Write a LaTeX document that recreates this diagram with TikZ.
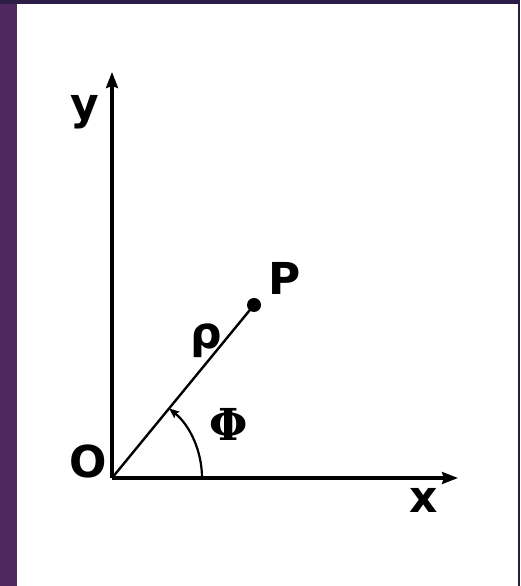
\documentclass[tikz,border=0pt]{standalone}
\usepackage{fontspec}
\setmainfont{DejaVu Sans}
\newfontfamily\phifont{DejaVu Serif}
\usepackage{tikz}
\usetikzlibrary{arrows.meta}
\usepackage{xcolor}
\definecolor{bandleft}{HTML}{4E2960}
\definecolor{bandtop}{HTML}{2B1D46}

\begin{document}
\begin{tikzpicture}[x=1pt,y=1pt,font=\fontsize{44}{50}\selectfont\bfseries,
  axis/.style={line width=3.2pt,-{Stealth[length=16pt,width=12pt,inset=2pt]}},
  ray/.style={line width=2.4pt},
  anglearc/.style={line width=2.2pt,-{Stealth[length=10pt,width=8pt,inset=1.5pt]}},
  lbl/.style={inner sep=0pt}]
% frame
\fill[white] (0,0) rectangle (520,586);
\fill[bandleft] (0,0) rectangle (17,586);
\fill[bandtop] (0,582) rectangle (520,586);
\fill[bandtop] (518,0) rectangle (520,586);
\useasboundingbox (0,0) rectangle (520,586);
% axes and point
\coordinate (O) at (112,108);
\coordinate (xtip) at (458,108);
\coordinate (ytip) at (112,514);
\coordinate (P) at (254,281);
\draw[axis] (O) -- (xtip);
\draw[axis] (O) -- (ytip);
\draw[ray] (O) -- (P);
\fill (P) circle (7);
\draw[anglearc] ([shift={(0:90)}]O) arc[start angle=0,end angle=50.6,radius=90];
% labels
\node[lbl] (ylab) at (85,474) {y};
\node[lbl] (olab) at (88,125) {O};
\node[lbl] (plab) at (285,308) {P};
\node[lbl] (rholab) at (206,245) {ρ};
\node[lbl] (philab) at (229,162) {\phifont Φ};
\node[lbl] (xlab) at (424,86) {x};
\end{tikzpicture}
\end{document}
